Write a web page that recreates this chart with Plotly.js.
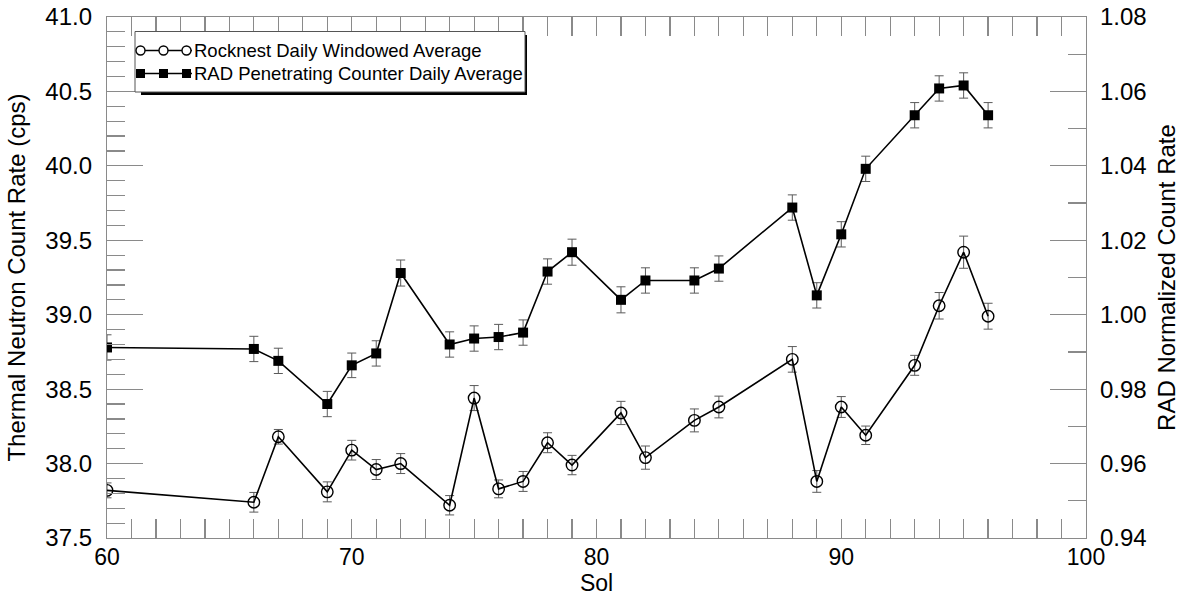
<!DOCTYPE html>
<html>
<head>
<meta charset="utf-8">
<script src="https://cdn.plot.ly/plotly-3.0.1.min.js"></script>
<style>html,body{margin:0;padding:0;background:#fff;}#chart{width:1183px;height:597px;}</style>
</head>
<body>
<div id="chart"></div>
<script>
// ---- data ----
const sols = [60,66,67,69,70,71,72,74,75,76,77,78,79,81,82,84,85,88,89,90,91,93,94,95,96];
const rocknest = [37.82,37.74,38.18,37.81,38.09,37.96,38.00,37.72,38.44,37.83,37.88,38.14,37.99,38.34,38.04,38.29,38.38,38.70,37.88,38.38,38.19,38.66,39.06,39.42,38.99];
const rocknestErr = [0.05,0.066,0.049,0.067,0.066,0.067,0.067,0.065,0.084,0.06,0.067,0.067,0.065,0.078,0.078,0.077,0.073,0.086,0.073,0.07,0.062,0.067,0.089,0.108,0.087];
const rad = [0.9912,0.9908,0.9876,0.9760,0.9864,0.9896,1.0112,0.9920,0.9936,0.9940,0.9952,1.0116,1.0168,1.0040,1.0092,1.0092,1.0124,1.0288,1.0052,1.0216,1.0392,1.0536,1.0608,1.0616,1.0536];
const radErr = [0.0034,0.0034,0.0034,0.0034,0.0033,0.0034,0.0035,0.0034,0.0034,0.0034,0.0034,0.0034,0.0035,0.0035,0.0034,0.0034,0.0034,0.0034,0.0034,0.0034,0.0034,0.0034,0.0034,0.0034,0.0034];
const legendNames = ["Rocknest Daily Windowed Average", "RAD Penetrating Counter Daily Average"];
const xTitle = "Sol";
const yTitle = "Thermal Neutron Count Rate (cps)";
const y2Title = "RAD Normalized Count Rate";

// ---- layout helpers ----
const FONT = "Liberation Sans, Arial, Helvetica, sans-serif";
const M = {l:107, r:97, t:17, b:59};
const W = 1183, H = 597;
const PW = W - M.l - M.r, PH = H - M.t - M.b;
const px = x => (x - M.l) / PW;
const py = y => (H - M.b - y) / PH;
const AX = '#8a8a8a';

const traces = [
  {
    x: sols, y: rocknest, name: legendNames[0], type: 'scatter', mode: 'lines+markers',
    line: {color: '#000', width: 1.6},
    marker: {symbol: 'circle-open', size: 11.5, color: '#000', line: {width: 1.4, color: '#000'}},
    error_y: {type: 'data', array: rocknestErr, visible: true, color: '#5a5a5a', thickness: 1, width: 4.5},
    showlegend: false
  },
  {
    x: sols, y: rad, name: legendNames[1], type: 'scatter', mode: 'lines+markers', yaxis: 'y2',
    line: {color: '#000', width: 1.6},
    marker: {symbol: 'square', size: 10, color: '#000'},
    error_y: {type: 'data', array: radErr, visible: true, color: '#5a5a5a', thickness: 1, width: 4.5},
    showlegend: false
  }
];

// custom legend (box with shadow, three-marker symbols)
const shapes = [
  {type:'rect', xref:'paper', yref:'paper', x0:px(141), x1:px(527), y0:py(35), y1:py(95), fillcolor:'#000', line:{width:0}, layer:'above'},
  {type:'rect', xref:'paper', yref:'paper', x0:px(135), x1:px(525), y0:py(31.5), y1:py(92), fillcolor:'#fff', line:{width:1, color:'#555'}, layer:'above'}
];
const rows = [50.5, 73.5];
const mx = [140.5, 163.5, 186.5];
rows.forEach((ry, i) => {
  shapes.push({type:'line', xref:'paper', yref:'paper', x0:px(137), x1:px(192), y0:py(ry), y1:py(ry), line:{color:'#000', width:1.6}, layer:'above'});
  mx.forEach(cx => {
    if (i === 0) {
      shapes.push({type:'circle', xref:'paper', yref:'paper', x0:px(cx-4.5), x1:px(cx+4.5), y0:py(ry+4.5), y1:py(ry-4.5), fillcolor:'#fff', line:{color:'#000', width:1.4}, layer:'above'});
    } else {
      shapes.push({type:'rect', xref:'paper', yref:'paper', x0:px(cx-4.5), x1:px(cx+4.5), y0:py(ry+4.5), y1:py(ry-4.5), fillcolor:'#000', line:{width:0}, layer:'above'});
    }
  });
});
const annotations = legendNames.map((t, i) => ({
  text: t, xref:'paper', yref:'paper', x: px(192), y: py(rows[i]), xanchor:'left', yanchor:'middle',
  showarrow:false, font:{family:FONT, size:18.5, color:'#000'}
}));

const layout = {
  width: W, height: H,
  margin: M,
  paper_bgcolor: '#fff', plot_bgcolor: '#fff',
  font: {family: FONT, size: 24, color: '#000'},
  showlegend: false,
  xaxis: {
    range: [60, 100], dtick: 10, tick0: 60,
    ticks: 'inside', ticklen: 19, tickwidth: 1.2, tickcolor: AX,
    minor: {dtick: 1, ticks: 'inside', ticklen: 11, tickwidth: 1.2, tickcolor: AX},
    showline: true, linecolor: AX, linewidth: 1.2, mirror: 'allticks',
    showgrid: false, zeroline: false,
    tickfont: {family: FONT, size: 23, color: '#000'},
    ticklabelstandoff: -2,
    title: {text: xTitle, font: {family: FONT, size: 23, color: '#000'}, standoff: 0}
  },
  yaxis: {
    range: [37.5, 41.0], dtick: 0.5, tick0: 37.5, tickformat: '.1f',
    ticks: 'inside', ticklen: 36, tickwidth: 1.2, tickcolor: AX,
    minor: {dtick: 0.1, ticks: 'inside', ticklen: 18, tickwidth: 1.2, tickcolor: AX},
    showline: true, linecolor: AX, linewidth: 1.2,
    showgrid: false, zeroline: false,
    tickfont: {family: FONT, size: 24, color: '#000'},
    ticklabelstandoff: 9,
    title: {text: yTitle, font: {family: FONT, size: 24, color: '#000'}, standoff: 12}
  },
  yaxis2: {
    overlaying: 'y', side: 'right',
    range: [0.94, 1.08], dtick: 0.02, tick0: 0.94, tickformat: '.2f',
    ticks: 'inside', ticklen: 36, tickwidth: 1.2, tickcolor: AX,
    minor: {dtick: 0.01, ticks: 'inside', ticklen: 18, tickwidth: 1.2, tickcolor: AX},
    showline: true, linecolor: AX, linewidth: 1.2,
    showgrid: false, zeroline: false,
    tickfont: {family: FONT, size: 24, color: '#000'},
    ticklabelstandoff: 8,
    title: {text: y2Title, font: {family: FONT, size: 24, color: '#000'}, standoff: 12}
  },
  shapes: shapes,
  annotations: annotations
};

Plotly.newPlot('chart', traces, layout, {displayModeBar: false, staticPlot: true});
</script>
</body>
</html>
